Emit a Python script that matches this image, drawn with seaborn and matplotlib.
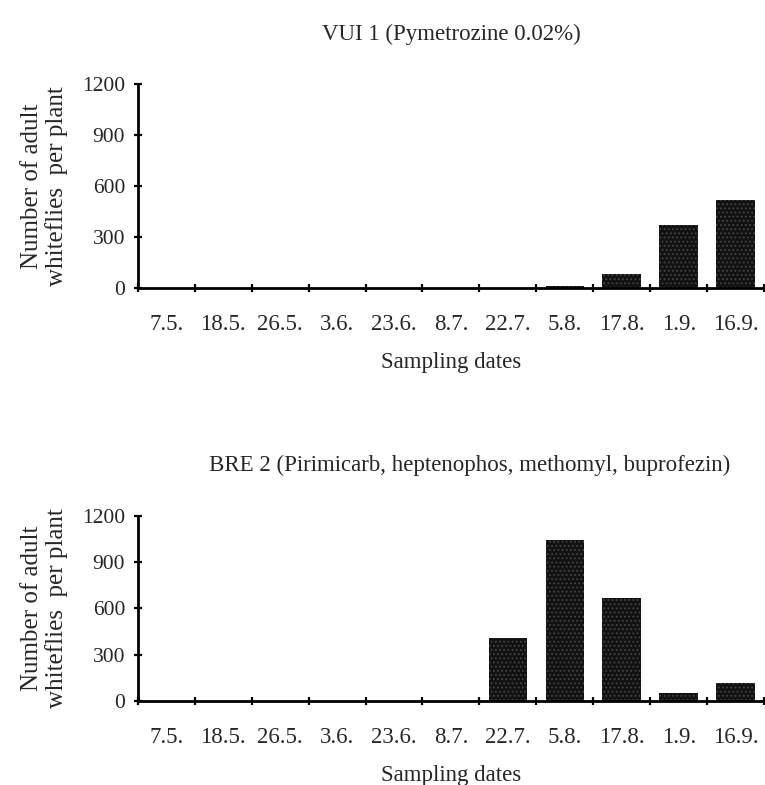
import pandas as pd
import matplotlib.pyplot as plt
import seaborn as sns

# sampling dates and adult whitefly counts
dates = ['7.5.', '18.5.', '26.5.', '3.6.', '23.6.', '8.7.', '22.7.', '5.8.', '17.8.', '1.9.', '16.9.']
vui1 = [1, 1, 1, 2, 3, 3, 3, 15, 84, 372, 520]
bre2 = [1, 1, 1, 2, 3, 3, 409, 1046, 668, 52, 115]

titles = ['VUI 1 (Pymetrozine 0.02%)',
          'BRE 2 (Pirimicarb, heptenophos, methomyl, buprofezin)']
yticks = [0, 300, 600, 900, 1200]

sns.set_style('white')
plt.rcParams['font.family'] = ['Liberation Serif', 'DejaVu Serif']
plt.rcParams['hatch.linewidth'] = 0.8

fig = plt.figure(figsize=(7.65, 7.85), dpi=100)
ax1 = fig.add_axes([0.180, 0.633, 0.819, 0.260])
ax2 = fig.add_axes([0.180, 0.107, 0.819, 0.236])

for ax, vals, title in zip([ax1, ax2], [vui1, bre2], titles):
    df = pd.DataFrame({'Date': dates, 'Count': vals})
    sns.barplot(x='Date', y='Count', data=df, ax=ax, color='#121212',
                width=0.68, edgecolor='#444444', linewidth=0, hatch='....',
                saturation=1)
    ax.set_xlim(-0.5, len(dates) - 0.5)
    ax.set_ylim(0, 1200)
    ax.set_yticks(yticks)
    ax.set_xticks([i - 0.5 for i in range(len(dates) + 1)], minor=True)
    ax.tick_params(axis='x', which='major', bottom=False, length=0, pad=19, labelsize=16.5)
    ax.tick_params(axis='x', which='minor', bottom=True, direction='inout',
                   length=6, width=1.6, color='black')
    ax.tick_params(axis='y', left=True, direction='inout', length=6, width=1.6,
                   color='black', labelsize=15.5, pad=6)
    for s in ['top', 'right']:
        ax.spines[s].set_visible(False)
    for s in ['left', 'bottom']:
        ax.spines[s].set_linewidth(2)
        ax.spines[s].set_color('black')
    ax.set_xlabel('Sampling dates', fontsize=16.5, labelpad=12)
    ax.set_ylabel('Number of adult\nwhiteflies  per plant', fontsize=18, labelpad=10,
                  linespacing=1.1)
    ax.set_title(title, fontsize=16.5, pad=32)

ax2.title.set_x(0.53)

plt.savefig('out.png', dpi=100)
